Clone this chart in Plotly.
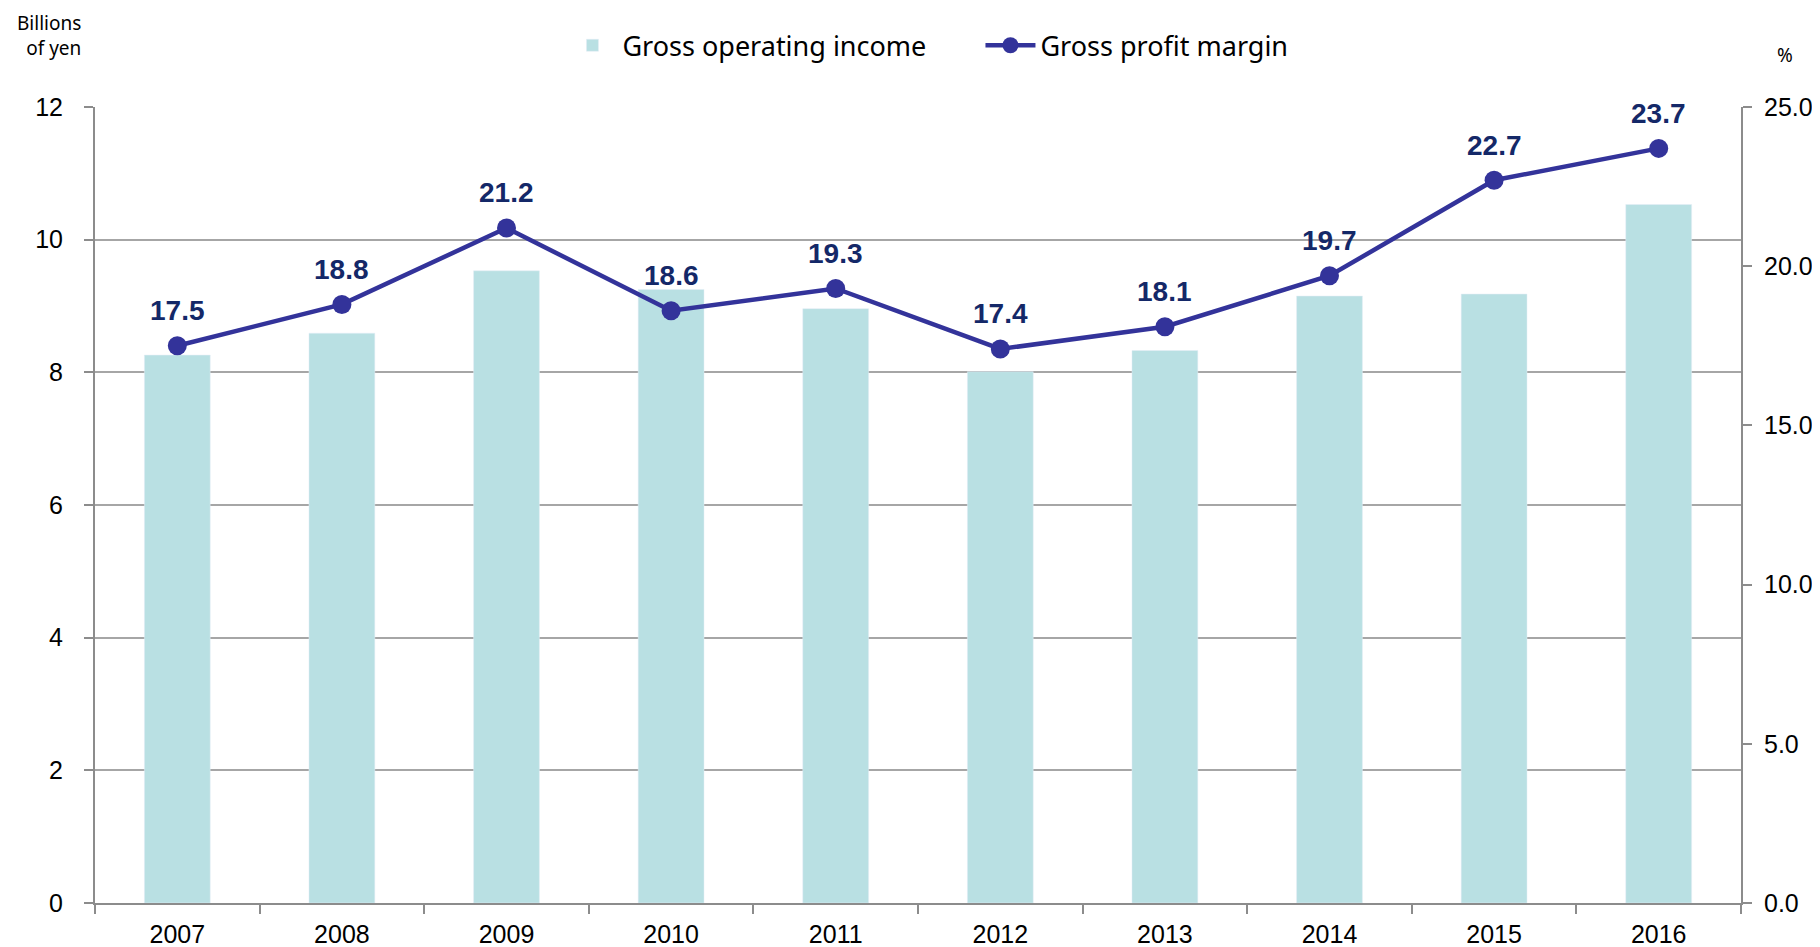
import plotly.graph_objects as go

years = ['2007', '2008', '2009', '2010', '2011', '2012', '2013', '2014', '2015', '2016']
gross_income = [8.26, 8.59, 9.53, 9.25, 8.96, 8.01, 8.33, 9.15, 9.18, 10.53]
profit_margin = [17.5, 18.8, 21.2, 18.6, 19.3, 17.4, 18.1, 19.7, 22.7, 23.7]

bar_color = '#b9e0e3'
line_color = '#33339a'
label_color = '#142868'
axis_color = '#8c8c8c'

fig = go.Figure()
fig.add_trace(go.Bar(
    x=years, y=gross_income, name='Gross operating income',
    marker_color=bar_color, width=0.4, yaxis='y'
))
fig.add_trace(go.Scatter(
    x=years, y=profit_margin, name='Gross profit margin',
    mode='lines+markers', yaxis='y2',
    line=dict(color=line_color, width=4.5),
    marker=dict(color=line_color, size=19)
))

# 数値ラベル (折れ線の上), x はカテゴリの番号で指定
labels = []
for i, v in enumerate(profit_margin):
    labels.append(dict(
        x=i, y=v, xref='x', yref='y2', text='%.1f' % v, showarrow=False,
        yanchor='middle', yshift=35,
        font=dict(family='Liberation Sans', size=28, color=label_color, weight='bold')
    ))

# body の 8px マージン分を差し引いたサイズ
fig.update_layout(
    width=1812, height=939,
    margin=dict(l=87, r=79, t=99, b=44, autoexpand=False),
    plot_bgcolor='white', paper_bgcolor='white',
    font=dict(family='Liberation Sans', size=25, color='black'),
    bargap=0.6,
    showlegend=True,
    legend=dict(
        orientation='h', x=0.284, xanchor='left', y=1.077, yanchor='middle',
        font=dict(family='Noto Sans', size=27), itemwidth=50, traceorder='normal',
        entrywidth=353, entrywidthmode='pixels'
    ),
    xaxis=dict(
        type='category', categoryorder='array', categoryarray=years, range=[-0.5, 9.5],
        showline=True, linecolor=axis_color, linewidth=2,
        ticks='outside', tickson='boundaries', ticklen=9, tickcolor=axis_color, tickwidth=2,
        showgrid=False, ticklabelstandoff=8
    ),
    yaxis=dict(
        range=[0, 12], dtick=2, showline=True, linecolor=axis_color, linewidth=2,
        ticks='outside', ticklen=9, tickcolor=axis_color, tickwidth=2,
        gridcolor='#a6a6a6', gridwidth=2, zeroline=False, ticklabelstandoff=16
    ),
    yaxis2=dict(
        range=[0, 25], dtick=5, tickformat='.1f', overlaying='y', side='right',
        showline=True, linecolor=axis_color, linewidth=2,
        ticks='outside', ticklen=9, tickcolor=axis_color, tickwidth=2,
        showgrid=False, zeroline=False, ticklabelstandoff=7
    ),
    annotations=labels + [
        dict(text='Billions<br>of yen', xref='paper', yref='paper', x=-0.007, y=1.09,
             xanchor='right', yanchor='middle', align='right', showarrow=False,
             font=dict(family='Noto Sans', size=19)),
        dict(text='%', xref='paper', yref='paper', x=1.027, y=1.065,
             xanchor='center', yanchor='middle', showarrow=False,
             font=dict(family='Noto Sans', size=19)),
    ]
)

fig.write_html('out.html')
